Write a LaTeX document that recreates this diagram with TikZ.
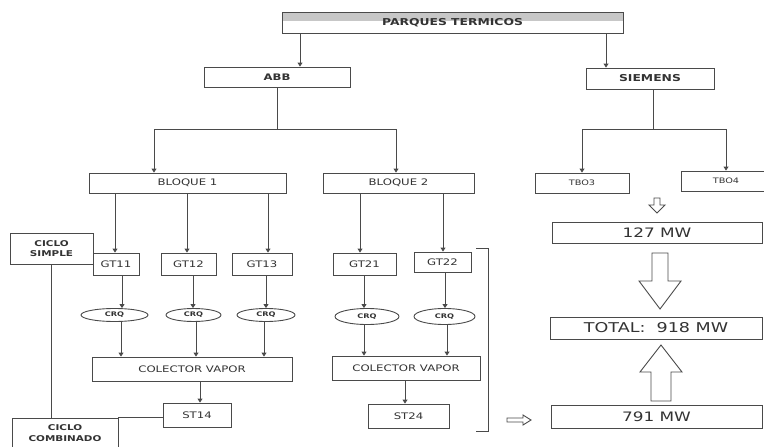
\documentclass[tikz,border=0pt]{standalone}
\usepackage{fontspec}
\setmainfont{DejaVu Sans}[FakeStretch=1.3]
\usetikzlibrary{arrows.meta,shapes.geometric,calc}
\definecolor{lc}{HTML}{4A4A4A}
\definecolor{tc}{HTML}{333333}
\tikzset{
  box/.style={draw=lc, line width=0.9pt, rectangle, inner sep=0pt, text=tc, fill=white,
    font=\fontsize{9}{10}\selectfont},
  boldbox/.style={box, font=\fontsize{9}{10}\selectfont\bfseries},
  smallbox/.style={box, align=center, font=\fontsize{8}{10.5}\selectfont\bfseries},
  crq/.style={draw=lc, line width=0.9pt, ellipse, inner sep=0pt, text=tc, fill=white,
    font=\fontsize{6.3}{7}\selectfont\bfseries},
  mwbox/.style={box, font=\fontsize{13}{14}\selectfont},
  arr/.style={draw=lc, line width=0.9pt, -{Triangle[length=4pt,width=5pt]}},
  ln/.style={draw=lc, line width=0.9pt},
  hollow/.style={draw=lc, line width=0.9pt, fill=white, line join=miter},
  topband/.style={path picture={\fill[black!22] (path picture bounding box.north west) rectangle ($(path picture bounding box.north east)!0.45!(path picture bounding box.south east)$);}},
}
\begin{document}
\begin{tikzpicture}[x=1pt,y=-1pt]
\useasboundingbox[fill=white] (0,0) rectangle (764,447);
% top level
\node[boldbox, font=\fontsize{9.5}{10}\selectfont\bfseries, topband, minimum width=341, minimum height=21] (parques) at (452.5,22.5) {PARQUES TERMICOS};
\node[boldbox, minimum width=146, minimum height=20] (abb) at (277,77) {ABB};
\node[boldbox, font=\fontsize{9.5}{10}\selectfont\bfseries, minimum width=128, minimum height=21] (siemens) at (650,78.5) {SIEMENS};
% second level
\node[box, minimum width=197, minimum height=20] (bloque1) at (187.5,183) {BLOQUE 1};
\node[box, minimum width=151, minimum height=20] (bloque2) at (398.5,183) {BLOQUE 2};
\node[box, font=\fontsize{7.5}{8}\selectfont, minimum width=94, minimum height=20] (tb03) at (582,183) {TBO3};
\node[box, font=\fontsize{7.5}{8}\selectfont, minimum width=90, minimum height=20] (tb04) at (726,181) {TBO4};
% ciclo boxes
\node[smallbox, minimum width=83, minimum height=31] (csimple) at (51.5,248.5) {CICLO\\SIMPLE};
\node[smallbox, minimum width=106, minimum height=30] (ccomb) at (65,433) {CICLO\\COMBINADO};
% gas turbines
\node[box, minimum width=46, minimum height=22] (gt11) at (116,264) {GT11};
\node[box, minimum width=55, minimum height=22] (gt12) at (188.5,264) {GT12};
\node[box, minimum width=60, minimum height=22] (gt13) at (262,264) {GT13};
\node[box, minimum width=63, minimum height=22] (gt21) at (364.5,264) {GT21};
\node[box, minimum width=57, minimum height=20] (gt22) at (442.5,262) {GT22};
% CRQ
\node[crq, minimum width=67, minimum height=13] (crq11) at (114.5,315) {CRQ};
\node[crq, minimum width=55, minimum height=13] (crq12) at (193.5,315) {CRQ};
\node[crq, minimum width=58, minimum height=13] (crq13) at (266,315) {CRQ};
\node[crq, minimum width=64, minimum height=16] (crq21) at (367,316.5) {CRQ};
\node[crq, minimum width=61, minimum height=16] (crq22) at (444.5,316.5) {CRQ};
% collectors
\node[box, minimum width=200, minimum height=24] (col1) at (192,369) {COLECTOR VAPOR};
\node[box, minimum width=148, minimum height=24] (col2) at (406,368) {COLECTOR VAPOR};
% steam turbines
\node[box, minimum width=68, minimum height=24] (st14) at (197,415) {ST14};
\node[box, minimum width=81, minimum height=24] (st24) at (408.5,416) {ST24};
% MW boxes
\node[mwbox, minimum width=210, minimum height=21] (mw127) at (657,232.5) {127 MW};
\node[mwbox, font=\fontsize{13.5}{14}\selectfont, minimum width=212, minimum height=22] (total) at (656,328) {TOTAL:\ \ 918 MW};
\node[mwbox, minimum width=211, minimum height=23] (mw791) at (656.5,416.5) {791 MW};

% connectors
\draw[arr] ([xshift=23]abb.north |- parques.south) -- ([xshift=23]abb.north);
\draw[arr] ([xshift=-44]siemens.north |- parques.south) -- ([xshift=-44]siemens.north);
\draw[arr] (abb.south) -- (abb.south |- 0,129) -| ([xshift=-33.5]bloque1.north);
\draw[arr] (abb.south |- 0,129) -| ([xshift=-2.5]bloque2.north);
\draw[arr] ([xshift=3]siemens.south) -- ([xshift=3]siemens.south |- 0,129) -| (tb03.north);
\draw[arr] ([xshift=3]siemens.south |- 0,129) -| (tb04.north);
% bloque -> gt
\draw[arr] (bloque1.south -| 115,0) -- (gt11.north -| 115,0);
\draw[arr] (bloque1.south -| 187,0) -- (gt12.north -| 187,0);
\draw[arr] (bloque1.south -| 268,0) -- (gt13.north -| 268,0);
\draw[arr] (bloque2.south -| 360,0) -- (gt21.north -| 360,0);
\draw[arr] (bloque2.south -| 443,0) -- (gt22.north -| 443,0);
% gt -> crq
\draw[arr] (gt11.south -| 122,0) -- (crq11.north -| 122,0);
\draw[arr] (gt12.south -| 193,0) -- (crq12.north -| 193,0);
\draw[arr] (gt13.south -| 266,0) -- (crq13.north -| 266,0);
\draw[arr] (gt21.south -| 364,0) -- (crq21.north -| 364,0);
\draw[arr] (gt22.south -| 445,0) -- (crq22.north -| 445,0);
% crq -> collector
\draw[arr] (crq11.south -| 121,0) -- (col1.north -| 121,0);
\draw[arr] (crq12.south -| 196,0) -- (col1.north -| 196,0);
\draw[arr] (crq13.south -| 264,0) -- (col1.north -| 264,0);
\draw[arr] (crq21.south -| 364,0) -- (col2.north -| 364,0);
\draw[arr] (crq22.south -| 447,0) -- (col2.north -| 447,0);
% collector -> st
\draw[arr] (col1.south -| 200,0) -- (st14.north -| 200,0);
\draw[arr] (col2.south -| 405,0) -- (st24.north -| 405,0);
% ciclo lines
\draw[ln] (csimple.south) -- (ccomb.north -| csimple.south);
\draw[ln] (ccomb.north east) -- (st14.west |- ccomb.north east);
% bracket
\draw[ln] (476,248) -- (488,248) -- (488,431) -- (476,431);
% hollow arrows
\draw[hollow] (654,198) -- (660,198) -- (660,205) -- (665,205) -- (657,213) -- (649,205) -- (654,205) -- cycle;
\draw[hollow] (507,418) -- (523,418) -- (523,415) -- (531,420) -- (523,425) -- (523,422) -- (507,422) -- cycle;
\draw[hollow] (652,253) -- (668,253) -- (668,281) -- (681,281) -- (660,309) -- (639,281) -- (652,281) -- cycle;
\draw[hollow] (651,401) -- (671,401) -- (671,372) -- (682,372) -- (661,345) -- (640,372) -- (651,372) -- cycle;
\end{tikzpicture}
\end{document}
